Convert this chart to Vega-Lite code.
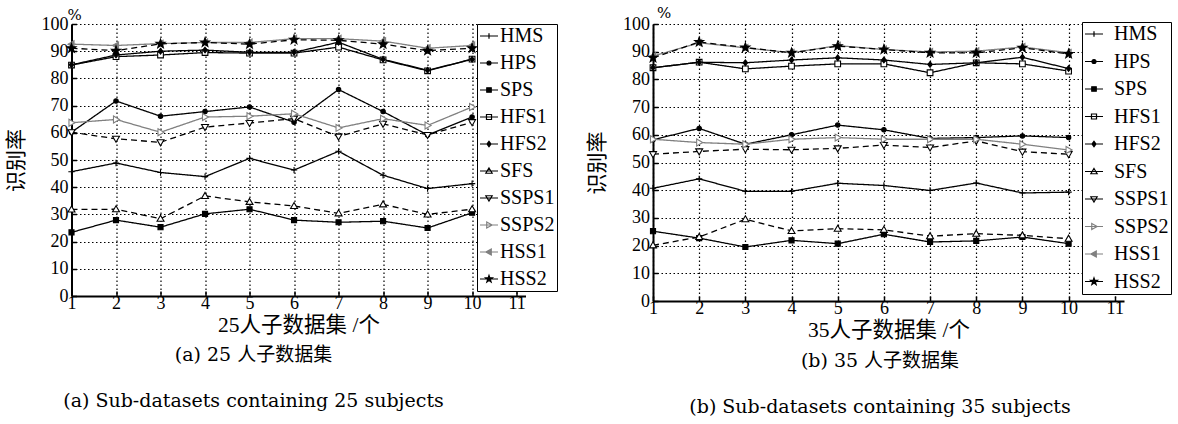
{
"$schema": "https://vega.github.io/schema/vega-lite/v6.json",
"background": "white",
"padding": {"left": 4.5, "top": 6, "right": 0, "bottom": 0},
"config": {
  "view": {"stroke": null},
  "axis": {"domainColor": "black", "domainWidth": 2, "tickColor": "black", "tickSize": -5, "tickWidth": 1.5,
    "labelFont": "Liberation Serif", "labelFontSize": 18, "labelColor": "black",
    "gridColor": "black", "gridDash": [1.5, 2.5], "gridWidth": 1.2, "gridOpacity": 1,
    "titleFont": "Liberation Serif, Noto Sans CJK SC", "titleFontWeight": "normal", "titleColor": "black"},
  "axisX": {"titleFontSize": 21.5},
  "axisY": {"titleFontSize": 21},
  "legend": {"labelFont": "Liberation Serif", "labelFontSize": 20, "labelColor": "black", "strokeColor": "black", "fillColor": "white", "padding": 2, "symbolSize": 324, "symbolStrokeWidth": 1.2, "rowPadding": 7, "labelLimit": 200},
  "title": {"font": "DejaVu Serif, Noto Sans CJK SC", "fontSize": 19, "fontWeight": "normal", "color": "black"}
},
"datasets": {
  "d25": [
    {"s":"HMS","x":1,"v":45.7},{"s":"HMS","x":2,"v":48.9},{"s":"HMS","x":3,"v":45.4},{"s":"HMS","x":4,"v":43.9},{"s":"HMS","x":5,"v":50.6},{"s":"HMS","x":6,"v":46.3},{"s":"HMS","x":7,"v":53.2},{"s":"HMS","x":8,"v":44.4},{"s":"HMS","x":9,"v":39.5},{"s":"HMS","x":10,"v":41.3},
    {"s":"HPS","x":1,"v":60.2},{"s":"HPS","x":2,"v":71.7},{"s":"HPS","x":3,"v":66.1},{"s":"HPS","x":4,"v":67.8},{"s":"HPS","x":5,"v":69.5},{"s":"HPS","x":6,"v":63.9},{"s":"HPS","x":7,"v":75.9},{"s":"HPS","x":8,"v":67.8},{"s":"HPS","x":9,"v":59.2},{"s":"HPS","x":10,"v":65.8},
    {"s":"SPS","x":1,"v":23.4},{"s":"SPS","x":2,"v":27.9},{"s":"SPS","x":3,"v":25.3},{"s":"SPS","x":4,"v":30.2},{"s":"SPS","x":5,"v":31.9},{"s":"SPS","x":6,"v":27.9},{"s":"SPS","x":7,"v":27.1},{"s":"SPS","x":8,"v":27.5},{"s":"SPS","x":9,"v":25.0},{"s":"SPS","x":10,"v":30.6},
    {"s":"HFS1","x":1,"v":84.9},{"s":"HFS1","x":2,"v":88.0},{"s":"HFS1","x":3,"v":88.6},{"s":"HFS1","x":4,"v":89.5},{"s":"HFS1","x":5,"v":89.3},{"s":"HFS1","x":6,"v":89.3},{"s":"HFS1","x":7,"v":91.5},{"s":"HFS1","x":8,"v":86.8},{"s":"HFS1","x":9,"v":82.8},{"s":"HFS1","x":10,"v":87.1},
    {"s":"HFS2","x":1,"v":85.0},{"s":"HFS2","x":2,"v":88.6},{"s":"HFS2","x":3,"v":90.0},{"s":"HFS2","x":4,"v":90.4},{"s":"HFS2","x":5,"v":89.6},{"s":"HFS2","x":6,"v":89.6},{"s":"HFS2","x":7,"v":93.3},{"s":"HFS2","x":8,"v":87.0},{"s":"HFS2","x":9,"v":83.0},{"s":"HFS2","x":10,"v":87.0},
    {"s":"SFS","x":1,"v":31.8},{"s":"SFS","x":2,"v":31.9},{"s":"SFS","x":3,"v":28.4},{"s":"SFS","x":4,"v":36.8},{"s":"SFS","x":5,"v":34.6},{"s":"SFS","x":6,"v":33.1},{"s":"SFS","x":7,"v":30.4},{"s":"SFS","x":8,"v":33.7},{"s":"SFS","x":9,"v":30.0},{"s":"SFS","x":10,"v":31.9},
    {"s":"SSPS1","x":1,"v":60.2},{"s":"SSPS1","x":2,"v":57.8},{"s":"SSPS1","x":3,"v":56.5},{"s":"SSPS1","x":4,"v":62.1},{"s":"SSPS1","x":5,"v":63.6},{"s":"SSPS1","x":6,"v":65.2},{"s":"SSPS1","x":7,"v":58.6},{"s":"SSPS1","x":8,"v":63.3},{"s":"SSPS1","x":9,"v":59.2},{"s":"SSPS1","x":10,"v":63.9},
    {"s":"SSPS2","x":1,"v":63.7},{"s":"SSPS2","x":2,"v":64.9},{"s":"SSPS2","x":3,"v":60.2},{"s":"SSPS2","x":4,"v":65.8},{"s":"SSPS2","x":5,"v":66.1},{"s":"SSPS2","x":6,"v":67.0},{"s":"SSPS2","x":7,"v":61.8},{"s":"SSPS2","x":8,"v":65.2},{"s":"SSPS2","x":9,"v":62.7},{"s":"SSPS2","x":10,"v":69.5},
    {"s":"HSS1","x":1,"v":92.6},{"s":"HSS1","x":2,"v":92.1},{"s":"HSS1","x":3,"v":92.8},{"s":"HSS1","x":4,"v":93.2},{"s":"HSS1","x":5,"v":93.2},{"s":"HSS1","x":6,"v":94.6},{"s":"HSS1","x":7,"v":94.6},{"s":"HSS1","x":8,"v":93.7},{"s":"HSS1","x":9,"v":91.1},{"s":"HSS1","x":10,"v":92.1},
    {"s":"HSS2","x":1,"v":91.1},{"s":"HSS2","x":2,"v":90.2},{"s":"HSS2","x":3,"v":92.7},{"s":"HSS2","x":4,"v":93.2},{"s":"HSS2","x":5,"v":92.6},{"s":"HSS2","x":6,"v":94.2},{"s":"HSS2","x":7,"v":94.0},{"s":"HSS2","x":8,"v":92.6},{"s":"HSS2","x":9,"v":90.2},{"s":"HSS2","x":10,"v":91.1}
  ],
  "d35": [
    {"s":"HMS","x":1,"v":40.7},{"s":"HMS","x":2,"v":44.1},{"s":"HMS","x":3,"v":39.6},{"s":"HMS","x":4,"v":39.6},{"s":"HMS","x":5,"v":42.5},{"s":"HMS","x":6,"v":41.7},{"s":"HMS","x":7,"v":39.9},{"s":"HMS","x":8,"v":42.6},{"s":"HMS","x":9,"v":39.0},{"s":"HMS","x":10,"v":39.3},
    {"s":"HPS","x":1,"v":58.2},{"s":"HPS","x":2,"v":62.3},{"s":"HPS","x":3,"v":56.6},{"s":"HPS","x":4,"v":60.0},{"s":"HPS","x":5,"v":63.5},{"s":"HPS","x":6,"v":61.8},{"s":"HPS","x":7,"v":58.7},{"s":"HPS","x":8,"v":59.0},{"s":"HPS","x":9,"v":59.6},{"s":"HPS","x":10,"v":59.0},
    {"s":"SPS","x":1,"v":25.2},{"s":"SPS","x":2,"v":22.7},{"s":"SPS","x":3,"v":19.5},{"s":"SPS","x":4,"v":21.9},{"s":"SPS","x":5,"v":20.7},{"s":"SPS","x":6,"v":24.1},{"s":"SPS","x":7,"v":21.3},{"s":"SPS","x":8,"v":21.7},{"s":"SPS","x":9,"v":23.1},{"s":"SPS","x":10,"v":20.7},
    {"s":"HFS1","x":1,"v":84.2},{"s":"HFS1","x":2,"v":86.2},{"s":"HFS1","x":3,"v":83.8},{"s":"HFS1","x":4,"v":84.8},{"s":"HFS1","x":5,"v":85.6},{"s":"HFS1","x":6,"v":85.6},{"s":"HFS1","x":7,"v":82.4},{"s":"HFS1","x":8,"v":86.0},{"s":"HFS1","x":9,"v":85.6},{"s":"HFS1","x":10,"v":83.0},
    {"s":"HFS2","x":1,"v":84.2},{"s":"HFS2","x":2,"v":86.2},{"s":"HFS2","x":3,"v":86.0},{"s":"HFS2","x":4,"v":87.0},{"s":"HFS2","x":5,"v":87.8},{"s":"HFS2","x":6,"v":87.0},{"s":"HFS2","x":7,"v":85.4},{"s":"HFS2","x":8,"v":86.0},{"s":"HFS2","x":9,"v":88.0},{"s":"HFS2","x":10,"v":83.9},
    {"s":"SFS","x":1,"v":20.1},{"s":"SFS","x":2,"v":23.1},{"s":"SFS","x":3,"v":29.5},{"s":"SFS","x":4,"v":25.3},{"s":"SFS","x":5,"v":26.1},{"s":"SFS","x":6,"v":25.7},{"s":"SFS","x":7,"v":23.4},{"s":"SFS","x":8,"v":24.3},{"s":"SFS","x":9,"v":23.7},{"s":"SFS","x":10,"v":22.5},
    {"s":"SSPS1","x":1,"v":53.0},{"s":"SSPS1","x":2,"v":54.0},{"s":"SSPS1","x":3,"v":54.8},{"s":"SSPS1","x":4,"v":54.6},{"s":"SSPS1","x":5,"v":55.1},{"s":"SSPS1","x":6,"v":56.3},{"s":"SSPS1","x":7,"v":55.4},{"s":"SSPS1","x":8,"v":57.8},{"s":"SSPS1","x":9,"v":53.9},{"s":"SSPS1","x":10,"v":53.0},
    {"s":"SSPS2","x":1,"v":58.4},{"s":"SSPS2","x":2,"v":57.2},{"s":"SSPS2","x":3,"v":56.6},{"s":"SSPS2","x":4,"v":58.4},{"s":"SSPS2","x":5,"v":59.0},{"s":"SSPS2","x":6,"v":58.4},{"s":"SSPS2","x":7,"v":58.4},{"s":"SSPS2","x":8,"v":58.4},{"s":"SSPS2","x":9,"v":56.6},{"s":"SSPS2","x":10,"v":54.5},
    {"s":"HSS1","x":1,"v":88.4},{"s":"HSS1","x":2,"v":93.2},{"s":"HSS1","x":3,"v":91.4},{"s":"HSS1","x":4,"v":89.6},{"s":"HSS1","x":5,"v":92.2},{"s":"HSS1","x":6,"v":90.8},{"s":"HSS1","x":7,"v":89.9},{"s":"HSS1","x":8,"v":90.2},{"s":"HSS1","x":9,"v":91.7},{"s":"HSS1","x":10,"v":89.6},
    {"s":"HSS2","x":1,"v":87.8},{"s":"HSS2","x":2,"v":93.5},{"s":"HSS2","x":3,"v":91.5},{"s":"HSS2","x":4,"v":89.6},{"s":"HSS2","x":5,"v":92.0},{"s":"HSS2","x":6,"v":90.8},{"s":"HSS2","x":7,"v":89.6},{"s":"HSS2","x":8,"v":89.6},{"s":"HSS2","x":9,"v":91.4},{"s":"HSS2","x":10,"v":89.2}
  ]
},
"bounds": "flush",
"spacing": 127.5,
"resolve": {"scale": {"stroke": "independent", "fill": "independent", "shape": "independent", "strokeDash": "independent"}, "legend": {"stroke": "independent"}},
"hconcat": [
 {
  "data": {"name": "d25"},
  "width": 454, "height": 272,
  "title": {"text": ["(a) 25 人子数据集", "(a) Sub-datasets containing 25 subjects"], "orient": "bottom", "anchor": "middle", "dx": -45, "offset": 10, "lineHeight": 46},
  "encoding": {
    "x": {"field": "x", "type": "quantitative", "scale": {"domain": [1, 11.2], "nice": false, "zero": false},
      "axis": {"values": [1,2,3,4,5,6,7,8,9,10,11], "format": "d", "title": "25人子数据集 /个", "labelPadding": 3.5, "titlePadding": 2, "grid": true, "labelFlush": false, "labelOverlap": false}},
    "y": {"field": "v", "type": "quantitative", "scale": {"domain": [0, 100], "nice": false},
      "axis": {"values": [0,10,20,30,40,50,60,70,80,90,100], "title": "识别率", "labelPadding": 8.5, "titlePadding": 15, "grid": true, "labelOverlap": false}}
  },
  "layer": [
   {"mark": {"type": "line", "strokeWidth": 1.3},
    "encoding": {
      "stroke": {"field": "s", "type": "nominal",
        "scale": {"domain": ["HMS","HPS","SPS","HFS1","HFS2","SFS","SSPS1","SSPS2","HSS1","HSS2"], "range": ["black","black","black","black","black","black","black","#808080","#808080","black"]},
        "legend": {"title": null, "orient": "none", "legendX": 405.5, "legendY": 0, "labelOffset": 1,
          "encode": {"symbols": {"update": {
            "shape": {"signal": "{'HMS':'M-1,0H1M0,-0.3V0.3','HPS':'M-1,0H1M-0.22,0A0.22,0.22,0,1,1,0.22,0A0.22,0.22,0,1,1,-0.22,0Z','SPS':'M-1,0H1M-0.25,-0.25H0.25V0.25H-0.25Z','HFS1':'M-1,0H1M-0.28,-0.28H0.28V0.28H-0.28Z','HFS2':'M-1,0H1M0,-0.3L0.22,0L0,0.3L-0.22,0Z','SFS':'M-1,0H1M0,-0.33L0.35,0.25H-0.35Z','SSPS1':'M-1,0H1M0,0.33L0.35,-0.25H-0.35Z','SSPS2':'M-1,0H1M0.35,0L-0.25,-0.33V0.33Z','HSS1':'M-1,0H1M-0.35,0L0.25,-0.33V0.33Z','HSS2':'M-1,0H1M0,-0.4L0.094,-0.129L0.38,-0.124L0.152,0.049L0.235,0.324L0,0.16L-0.235,0.324L-0.152,0.049L-0.38,-0.124L-0.094,-0.129Z'}[datum.value]"},
            "fill": {"signal": "{'HMS':'black','HPS':'black','SPS':'black','HFS1':'white','HFS2':'black','SFS':'white','SSPS1':'white','SSPS2':'white','HSS1':'#808080','HSS2':'black'}[datum.value]"},
            "strokeWidth": {"value": 1.2},
            "opacity": {"value": 1}
          }}}}},
      "strokeDash": {"field": "s", "type": "nominal", "legend": null, "sort": "ascending",
        "scale": {"range": [[1,0],[1,0],[1,0],[1,0],[1,0],[6,4],[6,4],[1,0],[6,4],[1,0]]}}
    }},
   {"mark": {"type": "point", "size": 40, "strokeWidth": 1.1, "opacity": 1},
    "encoding": {
      "stroke": {"field": "s", "type": "nominal",
        "scale": {"domain": ["HMS","HPS","SPS","HFS1","HFS2","SFS","SSPS1","SSPS2","HSS1","HSS2"], "range": ["black","black","black","black","black","black","black","#808080","#808080","black"]},
        "legend": {"title": null, "orient": "none", "legendX": 405.5, "legendY": 0, "labelOffset": 1,
          "encode": {"symbols": {"update": {
            "shape": {"signal": "{'HMS':'M-1,0H1M0,-0.3V0.3','HPS':'M-1,0H1M-0.22,0A0.22,0.22,0,1,1,0.22,0A0.22,0.22,0,1,1,-0.22,0Z','SPS':'M-1,0H1M-0.25,-0.25H0.25V0.25H-0.25Z','HFS1':'M-1,0H1M-0.28,-0.28H0.28V0.28H-0.28Z','HFS2':'M-1,0H1M0,-0.3L0.22,0L0,0.3L-0.22,0Z','SFS':'M-1,0H1M0,-0.33L0.35,0.25H-0.35Z','SSPS1':'M-1,0H1M0,0.33L0.35,-0.25H-0.35Z','SSPS2':'M-1,0H1M0.35,0L-0.25,-0.33V0.33Z','HSS1':'M-1,0H1M-0.35,0L0.25,-0.33V0.33Z','HSS2':'M-1,0H1M0,-0.4L0.094,-0.129L0.38,-0.124L0.152,0.049L0.235,0.324L0,0.16L-0.235,0.324L-0.152,0.049L-0.38,-0.124L-0.094,-0.129Z'}[datum.value]"},
            "fill": {"signal": "{'HMS':'black','HPS':'black','SPS':'black','HFS1':'white','HFS2':'black','SFS':'white','SSPS1':'white','SSPS2':'white','HSS1':'#808080','HSS2':'black'}[datum.value]"},
            "strokeWidth": {"value": 1.2},
            "opacity": {"value": 1}
          }}}}},
      "fill": {"field": "s", "type": "nominal", "legend": null, "sort": "ascending",
        "scale": {"range": ["white","black","black","black","#808080","black","white","black","white","white"]}},
      "shape": {"field": "s", "type": "nominal", "legend": null, "sort": "ascending",
        "scale": {"range": ["M-0.9,-0.9H0.9V0.9H-0.9Z", "M0,-0.9L0.7,0L0,0.9L-0.7,0Z", "M-1,0H1M0,-1V1", "M-0.7,0A0.7,0.7,0,1,1,0.7,0A0.7,0.7,0,1,1,-0.7,0Z", "M-1.1,0L0.8,-1.1V1.1Z", "M0,-1.5L0.353,-0.485L1.427,-0.464L0.571,0.185L0.882,1.214L0,0.6L-0.882,1.214L-0.571,0.185L-1.427,-0.464L-0.353,-0.485Z", "M0,-1.1L1.1,0.8H-1.1Z", "M-0.8,-0.8H0.8V0.8H-0.8Z", "M0,1.1L1.1,-0.8H-1.1Z", "M1.1,0L-0.8,-1.1V1.1Z"]}}
    }},
   {"data": {"values": [{"x": 1, "v": 100, "t": "%"}]},
    "mark": {"type": "text", "font": "DejaVu Serif", "fontSize": 15, "align": "center", "baseline": "alphabetic", "dx": 3, "dy": -4, "color": "black"},
    "encoding": {"text": {"field": "t"}}}
  ]
 },
 {
  "data": {"name": "d35"},
  "width": 471, "height": 277,
  "title": {"text": ["(b) 35 人子数据集", "(b) Sub-datasets containing 35 subjects"], "orient": "bottom", "anchor": "middle", "dx": -8.5, "offset": 11, "lineHeight": 46},
  "encoding": {
    "x": {"field": "x", "type": "quantitative", "scale": {"domain": [1, 11.2], "nice": false, "zero": false},
      "axis": {"values": [1,2,3,4,5,6,7,8,9,10,11], "format": "d", "title": "35人子数据集 /个", "labelPadding": 3.5, "titlePadding": 2, "grid": true, "labelFlush": false, "labelOverlap": false}},
    "y": {"field": "v", "type": "quantitative", "scale": {"domain": [0, 100], "nice": false},
      "axis": {"values": [0,10,20,30,40,50,60,70,80,90,100], "title": "识别率", "labelPadding": 8.5, "titlePadding": 15, "grid": true, "labelOverlap": false}}
  },
  "layer": [
   {"mark": {"type": "line", "strokeWidth": 1.3},
    "encoding": {
      "stroke": {"field": "s", "type": "nominal",
        "scale": {"domain": ["HMS","HPS","SPS","HFS1","HFS2","SFS","SSPS1","SSPS2","HSS1","HSS2"], "range": ["black","black","black","black","black","black","black","#808080","#808080","black"]},
        "legend": {"title": null, "orient": "none", "legendX": 429, "legendY": -2, "labelOffset": 10, "rowPadding": 7.5,
          "encode": {"symbols": {"update": {
            "shape": {"signal": "{'HMS':'M-1,0H1M0,-0.3V0.3','HPS':'M-1,0H1M-0.22,0A0.22,0.22,0,1,1,0.22,0A0.22,0.22,0,1,1,-0.22,0Z','SPS':'M-1,0H1M-0.25,-0.25H0.25V0.25H-0.25Z','HFS1':'M-1,0H1M-0.28,-0.28H0.28V0.28H-0.28Z','HFS2':'M-1,0H1M0,-0.3L0.22,0L0,0.3L-0.22,0Z','SFS':'M-1,0H1M0,-0.33L0.35,0.25H-0.35Z','SSPS1':'M-1,0H1M0,0.33L0.35,-0.25H-0.35Z','SSPS2':'M-1,0H1M0.35,0L-0.25,-0.33V0.33Z','HSS1':'M-1,0H1M-0.35,0L0.25,-0.33V0.33Z','HSS2':'M-1,0H1M0,-0.4L0.094,-0.129L0.38,-0.124L0.152,0.049L0.235,0.324L0,0.16L-0.235,0.324L-0.152,0.049L-0.38,-0.124L-0.094,-0.129Z'}[datum.value]"},
            "fill": {"signal": "{'HMS':'black','HPS':'black','SPS':'black','HFS1':'white','HFS2':'black','SFS':'white','SSPS1':'white','SSPS2':'white','HSS1':'#808080','HSS2':'black'}[datum.value]"},
            "strokeWidth": {"value": 1.2},
            "opacity": {"value": 1}
          }}}}},
      "strokeDash": {"field": "s", "type": "nominal", "legend": null, "sort": "ascending",
        "scale": {"range": [[1,0],[1,0],[1,0],[1,0],[1,0],[6,4],[6,4],[1,0],[6,4],[1,0]]}}
    }},
   {"mark": {"type": "point", "size": 40, "strokeWidth": 1.1, "opacity": 1},
    "encoding": {
      "stroke": {"field": "s", "type": "nominal",
        "scale": {"domain": ["HMS","HPS","SPS","HFS1","HFS2","SFS","SSPS1","SSPS2","HSS1","HSS2"], "range": ["black","black","black","black","black","black","black","#808080","#808080","black"]},
        "legend": {"title": null, "orient": "none", "legendX": 429, "legendY": -2, "labelOffset": 10, "rowPadding": 7.5,
          "encode": {"symbols": {"update": {
            "shape": {"signal": "{'HMS':'M-1,0H1M0,-0.3V0.3','HPS':'M-1,0H1M-0.22,0A0.22,0.22,0,1,1,0.22,0A0.22,0.22,0,1,1,-0.22,0Z','SPS':'M-1,0H1M-0.25,-0.25H0.25V0.25H-0.25Z','HFS1':'M-1,0H1M-0.28,-0.28H0.28V0.28H-0.28Z','HFS2':'M-1,0H1M0,-0.3L0.22,0L0,0.3L-0.22,0Z','SFS':'M-1,0H1M0,-0.33L0.35,0.25H-0.35Z','SSPS1':'M-1,0H1M0,0.33L0.35,-0.25H-0.35Z','SSPS2':'M-1,0H1M0.35,0L-0.25,-0.33V0.33Z','HSS1':'M-1,0H1M-0.35,0L0.25,-0.33V0.33Z','HSS2':'M-1,0H1M0,-0.4L0.094,-0.129L0.38,-0.124L0.152,0.049L0.235,0.324L0,0.16L-0.235,0.324L-0.152,0.049L-0.38,-0.124L-0.094,-0.129Z'}[datum.value]"},
            "fill": {"signal": "{'HMS':'black','HPS':'black','SPS':'black','HFS1':'white','HFS2':'black','SFS':'white','SSPS1':'white','SSPS2':'white','HSS1':'#808080','HSS2':'black'}[datum.value]"},
            "strokeWidth": {"value": 1.2},
            "opacity": {"value": 1}
          }}}}},
      "fill": {"field": "s", "type": "nominal", "legend": null, "sort": "ascending",
        "scale": {"range": ["white","black","black","black","#808080","black","white","black","white","white"]}},
      "shape": {"field": "s", "type": "nominal", "legend": null, "sort": "ascending",
        "scale": {"range": ["M-0.9,-0.9H0.9V0.9H-0.9Z", "M0,-0.9L0.7,0L0,0.9L-0.7,0Z", "M-1,0H1M0,-1V1", "M-0.7,0A0.7,0.7,0,1,1,0.7,0A0.7,0.7,0,1,1,-0.7,0Z", "M-1.1,0L0.8,-1.1V1.1Z", "M0,-1.5L0.353,-0.485L1.427,-0.464L0.571,0.185L0.882,1.214L0,0.6L-0.882,1.214L-0.571,0.185L-1.427,-0.464L-0.353,-0.485Z", "M0,-1.1L1.1,0.8H-1.1Z", "M-0.8,-0.8H0.8V0.8H-0.8Z", "M0,1.1L1.1,-0.8H-1.1Z", "M1.1,0L-0.8,-1.1V1.1Z"]}}
    }},
   {"data": {"values": [{"x": 1, "v": 100, "t": "%"}]},
    "mark": {"type": "text", "font": "DejaVu Serif", "fontSize": 15, "align": "center", "baseline": "alphabetic", "dx": 11, "dy": -6, "color": "black"},
    "encoding": {"text": {"field": "t"}}}
  ]
 }
]
}
